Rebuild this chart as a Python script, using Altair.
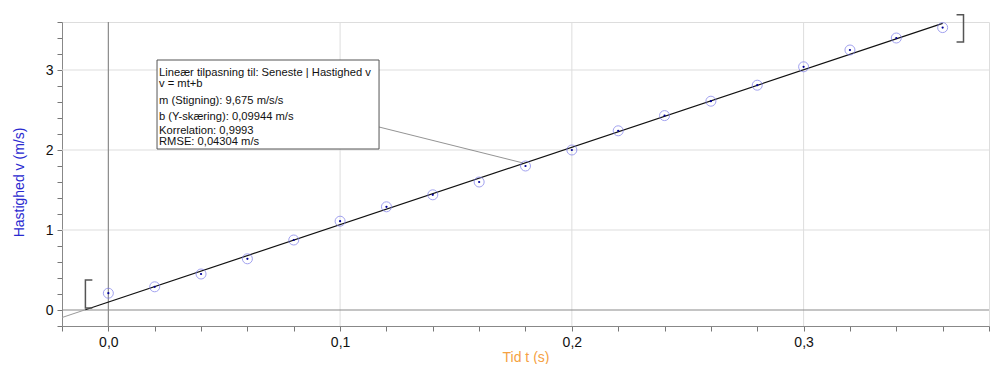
import altair as alt
import pandas as pd

# measured data
t_vals = [0.00, 0.02, 0.04, 0.06, 0.08, 0.10, 0.12, 0.14, 0.16, 0.18,
          0.20, 0.22, 0.24, 0.26, 0.28, 0.30, 0.32, 0.34, 0.36]
v_vals = [0.21, 0.29, 0.45, 0.64, 0.875, 1.11, 1.29, 1.44, 1.60, 1.80,
          2.00, 2.24, 2.43, 2.61, 2.81, 3.04, 3.25, 3.40, 3.53]

# linear fit
slope = 9.675
intercept = 0.09944
fit_gray_t = [-0.02, -0.0099]
fit_black_t = [-0.0099, 0.36]

x_major = [0.1, 0.2, 0.3]
y_major = [1, 2, 3]
x_ticks = [round(-0.02 + 0.02 * i, 2) for i in range(21)]
y_ticks = [round(-0.2 + 0.2 * i, 1) for i in range(20)]

# brackets around fit range
br_left_t = [-0.0069, -0.0099, -0.0099, -0.0069]
br_left_v = [0.375, 0.375, 0.025, 0.025]
br_right_t = [0.366, 0.369, 0.369, 0.366]
br_right_v = [3.69, 3.69, 3.35, 3.35]

# annotation
ann_lines = [
    "Lineær tilpasning til: Seneste | Hastighed v",
    "v = mt+b",
    "m (Stigning): 9,675 m/s/s",
    "b (Y-skæring): 0,09944 m/s",
    "Korrelation: 0,9993",
    "RMSE: 0,04304 m/s",
]
ann_v = [2.966, 2.821, 2.6125, 2.416, 2.2375, 2.104]
box_t = [0.0210, 0.1168]
box_v = [3.125, 2.0125]
conn_t = [0.1168, 0.179]
conn_v = [2.2875, 1.8375]

FONT = "Liberation Sans, Arial, sans-serif"
X_DOM = [-0.02, 0.38]
Y_DOM = [-0.2, 3.6]

pts = pd.DataFrame({"t": t_vals, "v": v_vals})

xs = alt.Scale(domain=X_DOM, nice=False, zero=False)
ys = alt.Scale(domain=Y_DOM, nice=False, zero=False)

x_axis = alt.Axis(
    values=x_ticks, tickCount=100, grid=False, title="Tid t (s)", titleColor="#f5a142",
    titleFont=FONT, titleFontSize=14, titleFontWeight="normal",
    titleBaseline="bottom", titleY=38,
    labelFont=FONT, labelFontSize=14, labelColor="#111", labelPadding=4,
    labelOverlap=False, labelFlush=False, labelBound=False,
    labelExpr="abs(datum.value*10 - round(datum.value*10)) < 0.001 ? replace(format(datum.value, '.1f'), '.', ',') : ''",
    tickSize=5, tickColor="#777", domainColor="#888",
)
y_axis = alt.Axis(
    values=y_ticks, tickCount=100, grid=False, title="Hastighed v (m/s)", titleColor="#2a2ad0",
    titleFont=FONT, titleFontSize=14, titleFontWeight="normal",
    titleX=-43, titleY=160, titleBaseline="middle", titleAlign="center", titleAngle=270,
    labelFont=FONT, labelFontSize=14, labelColor="#111", labelPadding=4,
    labelOverlap=False, labelFlush=False, labelBound=False,
    labelExpr="abs(datum.value - round(datum.value)) < 0.001 ? format(datum.value, '.0f') : ''",
    tickSize=5, tickColor="#777", domainColor="#888",
)

def X(field="t"):
    return alt.X(f"{field}:Q", scale=xs, axis=x_axis)

def Y(field="v"):
    return alt.Y(f"{field}:Q", scale=ys, axis=y_axis)

# gridlines
vgrid = alt.Chart(pd.DataFrame({"t": x_major})).mark_rule(color="#dddddd", strokeWidth=1).encode(x=X())
hgrid = alt.Chart(pd.DataFrame({"v": y_major})).mark_rule(color="#dddddd", strokeWidth=1).encode(y=Y())
vzero = alt.Chart(pd.DataFrame({"t": [0.0]})).mark_rule(color="#8a8a8a", strokeWidth=1.2).encode(x=X())
hzero = alt.Chart(pd.DataFrame({"v": [0.0]})).mark_rule(color="#8a8a8a", strokeWidth=1.2).encode(y=Y())

fit_gray = pd.DataFrame({"t": fit_gray_t, "v": [slope * t + intercept for t in fit_gray_t]})
fit_black = pd.DataFrame({"t": fit_black_t, "v": [slope * t + intercept for t in fit_black_t]})
line_gray = alt.Chart(fit_gray).mark_line(color="#9a9a9a", strokeWidth=1).encode(x=X(), y=Y())
line_black = alt.Chart(fit_black).mark_line(color="#111111", strokeWidth=1.2).encode(x=X(), y=Y())

circles = alt.Chart(pts).mark_point(shape="circle", filled=False, color="#7b7bea", size=100, strokeWidth=1).encode(
    x=X(), y=Y())
dots = alt.Chart(pts).mark_point(shape="circle", filled=True, color="#00009a", size=5, opacity=1).encode(
    x=X(), y=Y())

brackets = pd.DataFrame({
    "t": br_left_t + br_right_t,
    "v": br_left_v + br_right_v,
    "g": ["L"] * 4 + ["R"] * 4,
    "o": list(range(4)) + list(range(4)),
})
br = alt.Chart(brackets).mark_line(color="#555555", strokeWidth=1.5, clip=False).encode(
    x=X(), y=Y(), detail="g:N", order="o:Q")

conn = alt.Chart(pd.DataFrame({"t": conn_t, "v": conn_v})).mark_line(color="#777777", strokeWidth=0.8).encode(
    x=X(), y=Y())

box = alt.Chart(pd.DataFrame({"t": [box_t[0]], "t2": [box_t[1]], "v": [box_v[0]], "v2": [box_v[1]]})).mark_rect(
    fill="white", stroke="#555555", strokeWidth=1).encode(
    x=X(), x2="t2:Q", y=Y(), y2="v2:Q")

ann = alt.Chart(pd.DataFrame({"txt": ann_lines, "v": ann_v, "t": [box_t[0]] * len(ann_lines)})).mark_text(
    align="left", baseline="middle", dx=2, font=FONT, fontSize=11.2, color="#111").encode(
    x=X(), y=Y(), text="txt:N")

chart = alt.layer(
    vgrid, hgrid, vzero, hzero, conn, line_gray, line_black, circles, dots, br, box, ann
).properties(
    width=927, height=304,
    padding={"left": 54, "top": 14, "right": 6, "bottom": 38},
    autosize=alt.AutoSizeParams(type="none"),
).configure_view(stroke="#cccccc", strokeWidth=1).configure(background="white")

chart.save("out.html", embed_options={"renderer": "svg", "actions": False})
